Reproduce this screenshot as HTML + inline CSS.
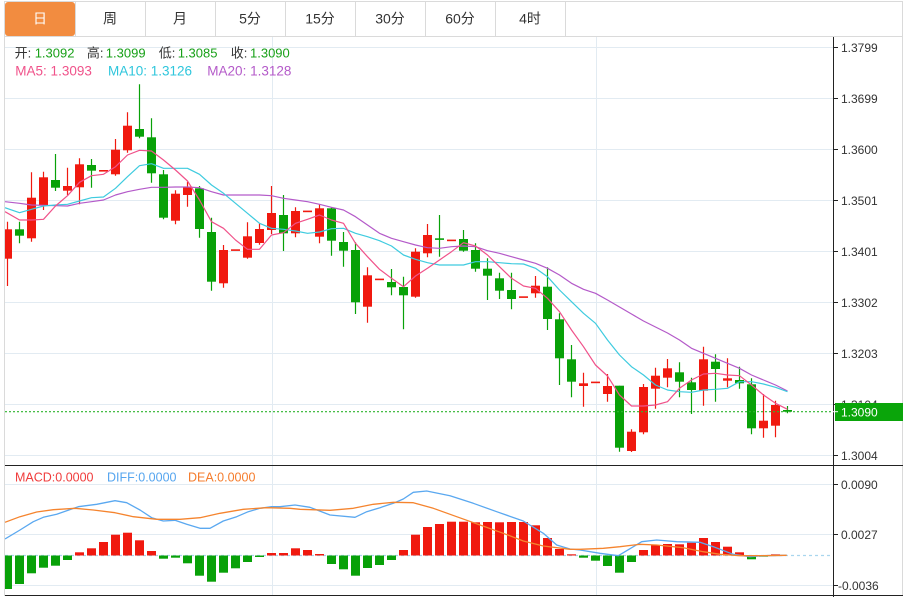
<!DOCTYPE html>
<html><head><meta charset="utf-8"><style>
html,body{margin:0;padding:0;background:#fff;}
svg{display:block;font-family:"Liberation Sans","Noto Sans CJK SC",sans-serif;}
</style></head><body>
<svg width="911" height="597" viewBox="0 0 911 597" xmlns="http://www.w3.org/2000/svg">
<defs><clipPath id="pc"><rect x="5" y="37" width="828" height="428"/></clipPath>
<clipPath id="mc"><rect x="5" y="466" width="828" height="129"/></clipPath></defs>
<!-- outer borders -->
<g stroke="#dadada" stroke-width="1" fill="none">
<line x1="4.5" y1="1.5" x2="902.5" y2="1.5"/>
<line x1="4.5" y1="1" x2="4.5" y2="596"/>
<line x1="902.5" y1="1" x2="902.5" y2="596"/>
<line x1="4.5" y1="36.5" x2="902.5" y2="36.5"/>
</g>
<!-- tabs -->
<rect x="5" y="2" width="70" height="34" rx="3" fill="#f28c40"/>
<g stroke="#dadada"><line x1="75.5" y1="1" x2="75.5" y2="36"/><line x1="145.5" y1="1" x2="145.5" y2="36"/><line x1="215.5" y1="1" x2="215.5" y2="36"/><line x1="285.5" y1="1" x2="285.5" y2="36"/><line x1="355.5" y1="1" x2="355.5" y2="36"/><line x1="425.5" y1="1" x2="425.5" y2="36"/><line x1="495.5" y1="1" x2="495.5" y2="36"/><line x1="565.5" y1="1" x2="565.5" y2="36"/></g>
<g font-size="14" text-anchor="middle" fill="#333">
<text x="40" y="23.5" fill="#fff">日</text><text x="110" y="23.5">周</text><text x="180" y="23.5">月</text><text x="250" y="23.5">5分</text><text x="320" y="23.5">15分</text><text x="390" y="23.5">30分</text><text x="460" y="23.5">60分</text><text x="530" y="23.5">4时</text>
</g>
<!-- grid -->
<g stroke="#e2ebf2" stroke-width="1">
<line x1="5" y1="47.5" x2="833" y2="47.5"/><line x1="5" y1="98.5" x2="833" y2="98.5"/><line x1="5" y1="149.5" x2="833" y2="149.5"/><line x1="5" y1="200.5" x2="833" y2="200.5"/><line x1="5" y1="251.5" x2="833" y2="251.5"/><line x1="5" y1="302.5" x2="833" y2="302.5"/><line x1="5" y1="353.5" x2="833" y2="353.5"/><line x1="5" y1="404.5" x2="833" y2="404.5"/><line x1="5" y1="455.5" x2="833" y2="455.5"/>
<line x1="5" y1="484.5" x2="833" y2="484.5"/><line x1="5" y1="534.5" x2="833" y2="534.5"/><line x1="5" y1="585.5" x2="833" y2="585.5"/>
<line x1="272.5" y1="37" x2="272.5" y2="595"/><line x1="596.5" y1="37" x2="596.5" y2="595"/>
</g>
<!-- legend -->
<g font-size="13">
<text x="14.6" y="57.5" fill="#333">开:</text><text x="34.7" y="57.5" fill="#18a018">1.3092</text>
<text x="86.9" y="57.5" fill="#333">高:</text><text x="105.8" y="57.5" fill="#18a018">1.3099</text>
<text x="158.8" y="57.5" fill="#333">低:</text><text x="177.7" y="57.5" fill="#18a018">1.3085</text>
<text x="230.7" y="57.5" fill="#333">收:</text><text x="250" y="57.5" fill="#18a018">1.3090</text>
</g>
<g font-size="13.5">
<text x="15.3" y="75.5" fill="#f0528a">MA5: 1.3093</text>
<text x="108" y="75.5" fill="#2ec6dc">MA10: 1.3126</text>
<text x="207.3" y="75.5" fill="#b45ac9">MA20: 1.3128</text>
</g>
<!-- candles -->
<g clip-path="url(#pc)">
<g stroke="#f0190f" stroke-width="1.2" fill="none">
<path d="M7.5 221.7V286M31.5 172.3V241.7M43.5 171.7V210M67.5 167.7V195M79.5 158.3V204.3M115.5 139V175.7M127.5 112.3V152.7M175.5 190.3V224.3M187.5 181.7V206.7M223.5 245V287.7M247.5 222.3V258.7M259.5 223.3V244.7M271.5 186V234M295.5 207.3V237.3M319.5 204.3V243.3M367.5 267.3V322.7M415.5 248.3V297.7M427.5 224V257.3M535.5 276V297.7M583.5 372.7V406.7M607.5 374V401.7M631.5 429.3V452M643.5 384V434.3M655.5 367.7V408.7M667.5 359V387.3M703.5 346.7V405.7M727.5 358.3V387.3M763.5 394V437.7M775.5 400.7V437.3"/>
</g>
<g fill="#f0190f">
<rect x="3" y="229.3" width="9" height="29.4"/><rect x="27" y="197.7" width="9" height="40.6"/><rect x="39" y="177.3" width="9" height="27.7"/><rect x="63" y="186" width="9" height="4.7"/><rect x="75" y="164.3" width="9" height="23"/><rect x="99" y="170" width="9" height="1.6"/><rect x="111" y="149.7" width="9" height="24.6"/><rect x="123" y="125.7" width="9" height="24.6"/><rect x="171" y="193.7" width="9" height="27"/><rect x="183" y="186.7" width="9" height="8.3"/><rect x="219" y="250" width="9" height="33.3"/><rect x="231" y="249.3" width="9" height="1.6"/><rect x="243" y="236.3" width="9" height="21.4"/><rect x="255" y="229" width="9" height="14"/><rect x="267" y="213" width="9" height="17"/><rect x="291" y="211" width="9" height="22.3"/><rect x="303" y="210.6" width="9" height="1.6"/><rect x="315" y="208.3" width="9" height="28.4"/><rect x="363" y="275.3" width="9" height="31.4"/><rect x="375" y="278.6" width="9" height="1.6"/><rect x="411" y="251.7" width="9" height="45"/><rect x="423" y="235" width="9" height="18.3"/><rect x="447" y="239.6" width="9" height="1.6"/><rect x="519" y="296.3" width="9" height="1.6"/><rect x="531" y="285.7" width="9" height="7.6"/><rect x="579" y="383.3" width="9" height="2.7"/><rect x="591" y="381.6" width="9" height="1.6"/><rect x="603" y="386" width="9" height="8"/><rect x="627" y="431.7" width="9" height="19.3"/><rect x="639" y="387" width="9" height="45.3"/><rect x="651" y="375.7" width="9" height="13"/><rect x="663" y="368.3" width="9" height="9.4"/><rect x="699" y="359.3" width="9" height="31.4"/><rect x="723" y="378.3" width="9" height="2.4"/><rect x="759" y="420.7" width="9" height="7.6"/><rect x="771" y="405" width="9" height="20.7"/>
</g>
<g stroke="#08a108" stroke-width="1.2" fill="none">
<path d="M19.5 221.7V243.3M55.5 154V191M91.5 159V187.7M139.5 84.3V138.3M151.5 118.3V182.7M163.5 170V219.3M199.5 186V237.7M211.5 217.7V290.7M283.5 195V251M331.5 207.3V255.7M343.5 232V266.7M355.5 242.3V314M391.5 269V295.3M403.5 276.7V329.3M439.5 215V256.7M463.5 230V251.7M475.5 243.3V271.7M487.5 258.3V300M499.5 272.7V299M511.5 272.7V309.3M547.5 267.3V330M559.5 313.3V385M571.5 345V397.3M619.5 385.7V451.7M679.5 362.3V397.3M691.5 377.7V414M715.5 354.3V401.7M739.5 366.7V388.7M751.5 378.3V434.3M787.5 406V413.3"/>
</g>
<g fill="#08a108">
<rect x="15" y="229.3" width="9" height="6.4"/><rect x="51" y="180" width="9" height="7.7"/><rect x="87" y="165" width="9" height="5.7"/><rect x="135" y="129" width="9" height="7.7"/><rect x="147" y="137.3" width="9" height="36"/><rect x="159" y="174.3" width="9" height="43.4"/><rect x="195" y="188.3" width="9" height="40.7"/><rect x="207" y="232" width="9" height="49.7"/><rect x="279" y="215" width="9" height="18.3"/><rect x="327" y="208.3" width="9" height="32.4"/><rect x="339" y="242" width="9" height="8.7"/><rect x="351" y="250" width="9" height="52.3"/><rect x="387" y="282" width="9" height="5.3"/><rect x="399" y="287" width="9" height="8.3"/><rect x="435" y="238.3" width="9" height="1.6"/><rect x="459" y="239" width="9" height="11.7"/><rect x="471" y="250" width="9" height="18.7"/><rect x="483" y="268.7" width="9" height="7"/><rect x="495" y="278.3" width="9" height="12.4"/><rect x="507" y="290" width="9" height="9"/><rect x="543" y="286.7" width="9" height="32.3"/><rect x="555" y="319.3" width="9" height="39"/><rect x="567" y="359.3" width="9" height="22.4"/><rect x="615" y="385.7" width="9" height="62"/><rect x="675" y="372.3" width="9" height="9.4"/><rect x="687" y="382.3" width="9" height="7.7"/><rect x="711" y="361.7" width="9" height="7.3"/><rect x="735" y="380" width="9" height="3.3"/><rect x="747" y="384.3" width="9" height="44"/><rect x="783" y="410" width="9" height="1.7"/>
</g>
<!-- MA lines -->
<g fill="none" stroke-width="1.2" stroke-linejoin="round">
<polyline stroke="#b45ac9" points="5,201.7 19.5,203.3 31.5,205 43.5,205.3 55.5,205.7 67.5,206 79.5,203.3 91.5,201.7 103.5,200 115.5,195 127.5,191.7 139.5,189.3 151.5,187.3 163.5,187.3 175.5,187 187.5,187 199.5,187.7 211.5,191.7 223.5,195 235.5,195 247.5,195 259.5,195 271.5,195.7 283.5,198.3 295.5,200 307.5,201.7 319.5,204.3 331.5,207.3 343.5,210 355.5,216.7 367.5,225 379.5,233.3 391.5,238.3 403.5,241.7 415.5,245 427.5,247.7 439.5,248.3 451.5,246.7 463.5,246 475.5,246.7 487.5,250.7 499.5,253.3 511.5,256.7 523.5,260 535.5,263.3 547.5,268.3 559.5,275 571.5,283.3 583.5,289.3 595.5,293.3 607.5,300 619.5,307 631.5,314 643.5,321 655.5,327 667.5,333 679.5,340 691.5,348.3 703.5,353.3 715.5,358.3 727.5,363.3 739.5,368.3 751.5,375 763.5,380 775.5,385 787.5,391"/>
<polyline stroke="#3ecbdf" points="5,207.7 19.5,212.7 31.5,209.3 43.5,206 55.5,205 67.5,204.3 79.5,201 91.5,197.7 103.5,197 115.5,188.3 127.5,176.7 139.5,165.7 151.5,163.7 163.5,168.3 175.5,168.3 187.5,168.3 199.5,174.3 211.5,185 223.5,193.3 235.5,203.3 247.5,213.3 259.5,223.3 271.5,228.3 283.5,229.3 295.5,231 307.5,233.3 319.5,232 331.5,228.7 343.5,228.3 355.5,233.3 367.5,236.7 379.5,240.7 391.5,246 403.5,255 415.5,259.3 427.5,262.7 439.5,265 451.5,265 463.5,265 475.5,261.7 487.5,261.7 499.5,262.7 511.5,263.7 523.5,264 535.5,268.3 547.5,276.7 559.5,290 571.5,301.7 583.5,313.3 595.5,323.3 607.5,340 619.5,355 631.5,366.7 643.5,375 655.5,385 667.5,390 679.5,391.7 691.5,392.3 703.5,390 715.5,389.3 727.5,388.3 739.5,381.7 751.5,381.7 763.5,384 775.5,387.3 787.5,391.7"/>
<polyline stroke="#f0528a" points="5,211.7 19.5,220 31.5,220 43.5,219.3 55.5,206 67.5,195.7 79.5,182.3 91.5,175.7 103.5,174.3 115.5,166.7 127.5,155 139.5,150.3 151.5,151 163.5,160 175.5,170 187.5,181 199.5,200 211.5,221.7 223.5,228.3 235.5,240 247.5,249.3 259.5,249.3 271.5,235 283.5,232.7 295.5,223.3 307.5,219.3 319.5,215 331.5,220 343.5,223.3 355.5,243.3 367.5,256.7 379.5,269.3 391.5,278.3 403.5,286.7 415.5,276 427.5,268.3 439.5,260 451.5,251.7 463.5,242.7 475.5,246 487.5,255 499.5,266.7 511.5,278.3 523.5,286 535.5,288.3 547.5,298.3 559.5,311.7 571.5,330 583.5,346.7 595.5,365 607.5,376 619.5,395 631.5,406 643.5,406 655.5,405 667.5,401.7 679.5,388.3 691.5,380 703.5,374 715.5,373.3 727.5,375 739.5,375.7 751.5,385 763.5,395 775.5,403.3 787.5,409.3"/>
</g>
</g>
<!-- price line -->
<line x1="5" y1="411.7" x2="833" y2="411.7" stroke="#2fb52f" stroke-width="1.2" stroke-dasharray="2,2"/>
<!-- MACD -->
<text x="15" y="481.5" font-size="12.5" fill="#f03c3c">MACD:0.0000</text>
<text x="107" y="481.5" font-size="12.5" fill="#55a5ef">DIFF:0.0000</text>
<text x="188" y="481.5" font-size="12.5" fill="#f57c2c">DEA:0.0000</text>
<line x1="5" y1="555.5" x2="830" y2="555.5" stroke="#a9d6ee" stroke-width="1.2" stroke-dasharray="3,3"/>
<g clip-path="url(#mc)">
<g fill="#f0190f">
<rect x="75" y="552.3" width="9" height="3.2"/><rect x="87" y="548.3" width="9" height="7.2"/><rect x="99" y="542" width="9" height="13.5"/><rect x="111" y="534.7" width="9" height="20.8"/><rect x="123" y="532.7" width="9" height="22.8"/><rect x="135" y="540.3" width="9" height="15.2"/><rect x="147" y="551" width="9" height="4.5"/><rect x="267" y="553" width="9" height="2.5"/><rect x="279" y="553" width="9" height="2.5"/><rect x="291" y="548.3" width="9" height="7.2"/><rect x="303" y="550" width="9" height="5.5"/><rect x="315" y="554" width="9" height="1.5"/><rect x="399" y="550" width="9" height="5.5"/><rect x="411" y="534.7" width="9" height="20.8"/><rect x="423" y="527" width="9" height="28.5"/><rect x="435" y="524" width="9" height="31.5"/><rect x="447" y="521.7" width="9" height="33.8"/><rect x="459" y="521.7" width="9" height="33.8"/><rect x="471" y="522.3" width="9" height="33.2"/><rect x="483" y="522" width="9" height="33.5"/><rect x="495" y="522.3" width="9" height="33.2"/><rect x="507" y="522" width="9" height="33.5"/><rect x="519" y="522" width="9" height="33.5"/><rect x="531" y="525.3" width="9" height="30.2"/><rect x="543" y="538" width="9" height="17.5"/><rect x="555" y="549" width="9" height="6.5"/><rect x="567" y="554.3" width="9" height="1.2"/><rect x="639" y="550" width="9" height="5.5"/><rect x="651" y="545" width="9" height="10.5"/><rect x="663" y="544" width="9" height="11.5"/><rect x="675" y="544.3" width="9" height="11.2"/><rect x="687" y="542.7" width="9" height="12.8"/><rect x="699" y="538" width="9" height="17.5"/><rect x="711" y="542" width="9" height="13.5"/><rect x="723" y="546.7" width="9" height="8.8"/><rect x="735" y="552.3" width="9" height="3.2"/><rect x="771" y="554.3" width="9" height="1.2"/>
</g>
<g fill="#08a108">
<rect x="3" y="555.5" width="9" height="33.5"/><rect x="15" y="555.5" width="9" height="28.5"/><rect x="27" y="555.5" width="9" height="17.8"/><rect x="39" y="555.5" width="9" height="12.2"/><rect x="51" y="555.5" width="9" height="10.2"/><rect x="63" y="555.5" width="9" height="4.5"/><rect x="159" y="555.5" width="9" height="3.2"/><rect x="171" y="555.5" width="9" height="2.2"/><rect x="183" y="555.5" width="9" height="7.8"/><rect x="195" y="555.5" width="9" height="20.2"/><rect x="207" y="555.5" width="9" height="26.2"/><rect x="219" y="555.5" width="9" height="17.2"/><rect x="231" y="555.5" width="9" height="12.8"/><rect x="243" y="555.5" width="9" height="6.5"/><rect x="255" y="555.5" width="9" height="1.5"/><rect x="327" y="555.5" width="9" height="8.5"/><rect x="339" y="555.5" width="9" height="13.8"/><rect x="351" y="555.5" width="9" height="20.2"/><rect x="363" y="555.5" width="9" height="12.5"/><rect x="375" y="555.5" width="9" height="9.5"/><rect x="387" y="555.5" width="9" height="4.5"/><rect x="579" y="555.5" width="9" height="2.2"/><rect x="591" y="555.5" width="9" height="5.2"/><rect x="603" y="555.5" width="9" height="10.5"/><rect x="615" y="555.5" width="9" height="17.2"/><rect x="627" y="555.5" width="9" height="6.5"/><rect x="747" y="555.5" width="9" height="3.8"/><rect x="759" y="555.5" width="9" height="1.2"/>
</g>
<g fill="none" stroke-width="1.3" stroke-linejoin="round">
<polyline stroke="#5aa8f0" points="5,539 20,530 33.3,521.7 43.3,517.3 56.7,514.3 78.3,506.7 96.7,504.3 115,500.7 126.7,502.7 140,510 151.7,517.7 163.3,521 175,520.3 186.7,524.3 200,528.3 210,528.3 223.3,521 236.7,516.7 248.3,511.7 260,508.3 271.7,506.7 280,506.7 295,505 310,507.3 330,515 355,517.3 366.7,511.7 380,507.7 393.3,503.3 403.3,499 413.3,492.3 426.7,491 450,495.7 473.3,503.3 496.7,511.7 523.3,521 543.3,533.3 556.7,545 570,549 580,550 600,553.3 618.3,555.7 641.7,541.7 656.7,540 676.7,541.7 700,542.3 713.3,546.7 733.3,554.3 750,556.7 763.3,555.7 786.7,555.3"/>
<polyline stroke="#f5842e" points="5,522.3 20,516.7 36.7,512 53.3,509.7 75,508.3 93.3,510 115,512.7 133.3,516.7 156.7,519.3 180,519.3 200,517.7 220,513.3 243.3,509.3 266.7,507.7 290,508.3 300,509.3 330,510.3 353.3,508.3 373.3,504.3 393.3,502.3 413.3,502.7 433.3,508.3 456.7,516.7 480,525 503.3,533.3 523.3,541 543.3,546 570,549.3 580,549.3 603.3,548.3 620,546.7 640,544.3 656.7,545 683.3,547.7 703.3,551.7 720,554.3 740,555.7 760,555.7 786.7,555.3"/>
</g>
</g>
<!-- axes -->
<g stroke="#222" stroke-width="1">
<line x1="833.5" y1="37" x2="833.5" y2="597"/>
<line x1="5" y1="465.5" x2="903" y2="465.5"/>
<line x1="5" y1="595.5" x2="903" y2="595.5"/>
<line x1="833" y1="47.5" x2="838" y2="47.5"/><line x1="833" y1="98.5" x2="838" y2="98.5"/><line x1="833" y1="149.5" x2="838" y2="149.5"/><line x1="833" y1="200.5" x2="838" y2="200.5"/><line x1="833" y1="251.5" x2="838" y2="251.5"/><line x1="833" y1="302.5" x2="838" y2="302.5"/><line x1="833" y1="353.5" x2="838" y2="353.5"/><line x1="833" y1="404.5" x2="838" y2="404.5"/><line x1="833" y1="455.5" x2="838" y2="455.5"/>
<line x1="833" y1="484.5" x2="838" y2="484.5"/><line x1="833" y1="534.5" x2="838" y2="534.5"/><line x1="833" y1="585.5" x2="838" y2="585.5"/>
</g>
<g font-size="12" fill="#333">
<text x="841" y="52">1.3799</text><text x="841" y="103">1.3699</text><text x="841" y="154">1.3600</text><text x="841" y="205">1.3501</text><text x="841" y="256">1.3401</text><text x="841" y="307">1.3302</text><text x="841" y="358">1.3203</text><text x="841" y="409">1.3104</text><text x="841" y="460">1.3004</text>
<text x="841" y="489">0.0090</text><text x="841" y="539">0.0027</text><text x="838" y="590">-0.0036</text>
</g>
<rect x="835" y="403" width="68" height="18" fill="#0aa50a"/>
<line x1="833" y1="411.7" x2="838" y2="411.7" stroke="#fff" stroke-width="1"/>
<text x="841" y="416.5" font-size="12" fill="#fff">1.3090</text>
</svg>
</body></html>
